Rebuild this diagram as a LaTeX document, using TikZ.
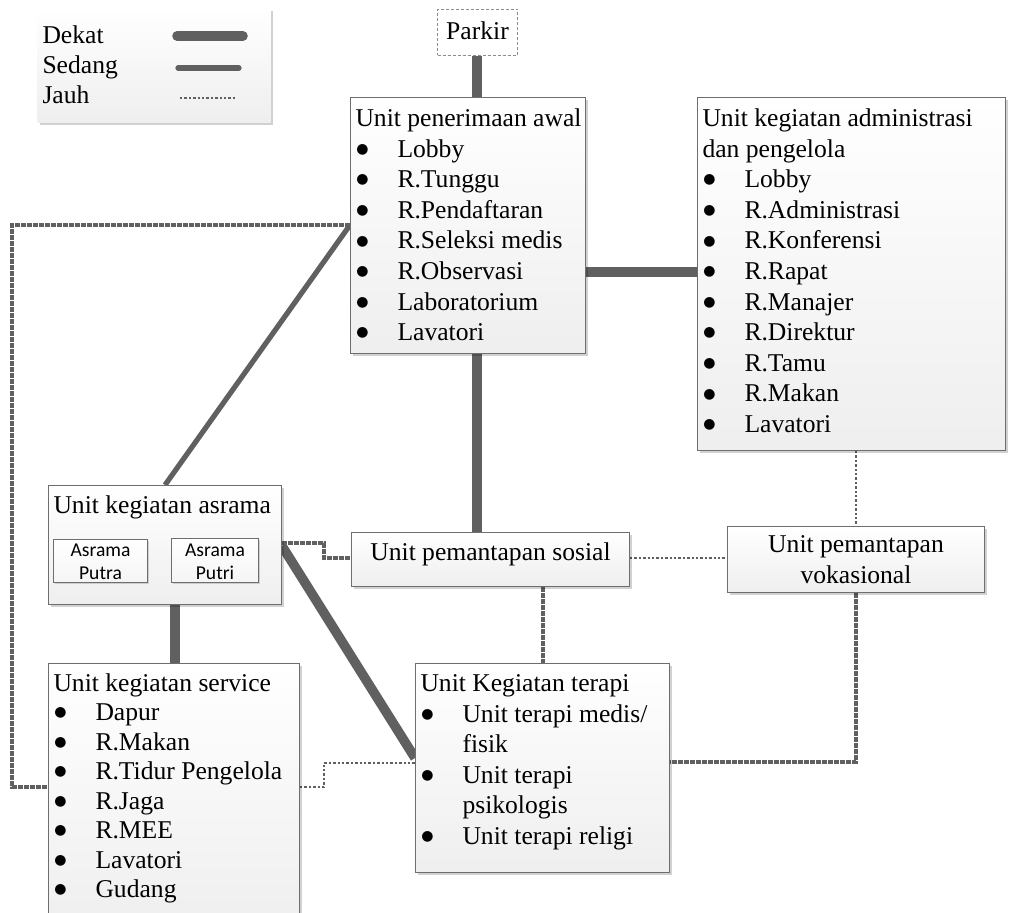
\documentclass[tikz,border=0pt]{standalone}
\usepackage{fontspec}
\setmainfont{Liberation Serif}
\newfontfamily\calib{Carlito}
\newfontfamily\dvs{DejaVu Sans}
\usetikzlibrary{shadows,backgrounds}
\definecolor{linec}{RGB}{96,96,96}
\definecolor{boxc}{RGB}{110,110,110}
\newcommand\tstrut[1]{\rule{0pt}{#1}}
\newcommand\itm{\makebox[21pt][l]{\hspace{0.4pt}\raisebox{1.9pt}{\dvs\fontsize{7}{7}\selectfont ●}}}
\newcommand\ind{\hspace*{21pt}}
\newcommand\boxtext[5][15.3]{\parbox[c][#3][t]{#2}{\fontsize{12.8}{#1}\selectfont\raggedright\leftskip=2.5pt\relax\tstrut{#4}#5}}
\newcommand\ctext[4]{\parbox[c][#2][t]{#1}{\fontsize{12.8}{15.3}\selectfont\centering\tstrut{#3}#4}}
\tikzset{
  ubox/.style={draw=boxc, line width=0.5pt, top color=white, bottom color=gray!13,
    inner sep=0pt, anchor=north west,
    drop shadow={shadow xshift=1.2pt, shadow yshift=-1.2pt, opacity=0.18, fill=black}},
  legbox/.style={ubox, draw=none},
  ibox/.style={draw=boxc, line width=0.5pt, top color=white, bottom color=gray!8,
    inner sep=0pt, anchor=north west,
    drop shadow={shadow xshift=0.8pt, shadow yshift=-0.8pt, opacity=0.15, fill=black}},
  pbox/.style={draw=boxc!80, line width=0.5pt, dash pattern=on 1.5pt off 1pt, fill=white,
    inner sep=0pt, anchor=north west},
  dekat/.style={draw=linec, line width=4.8pt},
  sedang/.style={draw=linec, line width=2.6pt},
  jauh/.style={draw=linec, line width=0.6pt, dash pattern=on 1.2pt off 1pt},
  jauhtebal/.style={draw=linec, line width=1.9pt, dash pattern=on 2.4pt off 0.6pt},
}
\begin{document}
\begin{tikzpicture}[x=0.5pt,y=-0.5pt]
\useasboundingbox (0,0) rectangle (1011,913);

% legend
\node[legbox] (leg) at (37,8) {\parbox[c][57pt][t]{116.5pt}{\fontsize{12.8}{15}\selectfont\raggedright\leftskip=2.5pt\relax\tstrut{17.5pt}Dekat\\Sedang\\Jauh}};
\coordinate (ld1) at (177,36);  \coordinate (ld2) at (243,36);
\coordinate (ls1) at (178,68);  \coordinate (ls2) at (239,68);
\coordinate (lj1) at (180,98);  \coordinate (lj2) at (235,98);
\draw[dekat, line cap=round] (ld1) -- (ld2);
\draw[sedang, line cap=round] (ls1) -- (ls2);
\draw[jauh] (lj1) -- (lj2);

% boxes
\node[pbox] (parkir) at (437,9) {\ctext{40pt}{23pt}{15pt}{Parkir}};

\node[ubox] (pa) at (350,97) {\boxtext{117.5pt}{128pt}{14.5pt}{Unit penerimaan awal\\
\itm Lobby\\ \itm R.Tunggu\\ \itm R.Pendaftaran\\ \itm R.Seleksi medis\\
\itm R.Observasi\\ \itm Laboratorium\\ \itm Lavatori}};

\node[ubox] (adm) at (697,97) {\boxtext{154pt}{176.5pt}{14.5pt}{Unit kegiatan administrasi\\dan pengelola\\
\itm Lobby\\ \itm R.Administrasi\\ \itm R.Konferensi\\ \itm R.Rapat\\ \itm R.Manajer\\
\itm R.Direktur\\ \itm R.Tamu\\ \itm R.Makan\\ \itm Lavatori}};

\node[ubox] (asr) at (48,485) {\boxtext{116.5pt}{59.5pt}{14pt}{Unit kegiatan asrama}};
\node[ibox] (putra) at (53,539) {\parbox[c][21.5pt][t]{47pt}{\centering\calib\fontsize{9.8}{11.8}\selectfont\tstrut{8.3pt}Asrama\\Putra}};
\node[ibox] (putri) at (171,538) {\parbox[c][22pt][t]{43.5pt}{\centering\calib\fontsize{9.8}{11.8}\selectfont\tstrut{8.8pt}Asrama\\Putri}};

\node[ubox] (sos) at (351,532) {\ctext{139pt}{27pt}{14pt}{Unit pemantapan sosial}};
\node[ubox] (vok) at (727,526) {\ctext{128.5pt}{33pt}{13pt}{Unit pemantapan\\vokasional}};

\node[ubox] (svc) at (48,663) {\boxtext[14.75]{125.5pt}{135pt}{13.8pt}{Unit kegiatan service\\
\itm Dapur\\ \itm R.Makan\\ \itm R.Tidur Pengelola\\ \itm R.Jaga\\ \itm R.MEE\\
\itm Lavatori\\ \itm Gudang}};

\node[ubox] (ter) at (415,663) {\boxtext{127pt}{104.5pt}{14pt}{Unit Kegiatan terapi\\
\itm Unit terapi medis/\\ \ind fisik\\ \itm Unit terapi\\ \ind psikologis\\
\itm Unit terapi religi}};

% helper coordinates
\coordinate (x12) at (12,0);
\coordinate (x165) at (165,0);
\coordinate (x175) at (175,0);
\coordinate (x324) at (324,0);
\coordinate (x477) at (477,0);
\coordinate (x543) at (543,0);
\coordinate (x856) at (856,0);
\coordinate (y225) at (0,225);
\coordinate (y272) at (0,272);
\coordinate (y543) at (0,543);
\coordinate (y546) at (0,546);
\coordinate (y558) at (0,558);
\coordinate (y758) at (0,758);
\coordinate (y762) at (0,762);
\coordinate (y763) at (0,763);
\coordinate (y787) at (0,787);

% connectors
\begin{scope}[on background layer]
\draw[dekat] (parkir.south -| x477) -- (pa.north -| x477);
\draw[dekat] (pa.south -| x477) -- (sos.north -| x477);
\draw[dekat] (pa.east |- y272) -- (adm.west |- y272);
\draw[sedang] (pa.west |- y225) -- (asr.north -| x165);
\draw[jauhtebal] (pa.west |- y225) -| (x12 |- y787) -- (svc.west |- y787);
\draw[jauhtebal] (asr.east |- y543) -- (x324 |- y543) -- (x324 |- y558) -- (sos.west |- y558);
\draw[dekat] (asr.east |- y546) -- (ter.west |- y758);
\draw[dekat] (asr.south -| x175) -- (svc.north -| x175);
\draw[jauh] (svc.east |- y787) -- (x324 |- y787) -- (x324 |- y763) -- (ter.west |- y763);
\draw[jauhtebal] (sos.south -| x543) -- (ter.north -| x543);
\draw[jauh] (sos.east |- y558) -- (vok.west |- y558);
\draw[jauh] (adm.south -| x856) -- (vok.north -| x856);
\draw[jauhtebal] (vok.south -| x856) |- (ter.east |- y762);
\end{scope}
\end{tikzpicture}
\end{document}
